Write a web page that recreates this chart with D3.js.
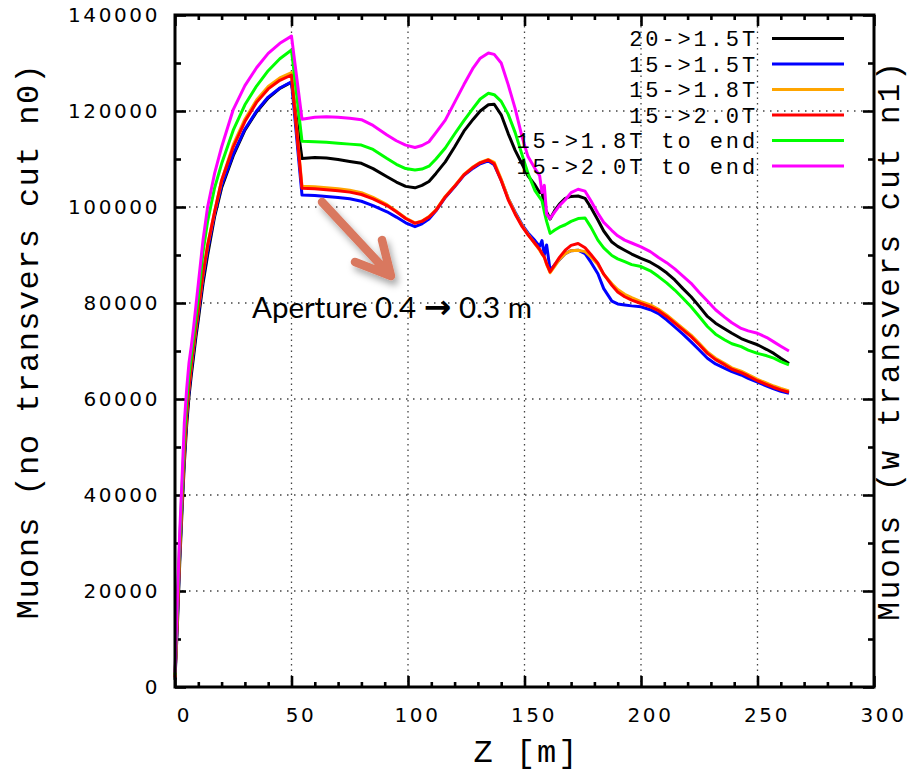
<!DOCTYPE html>
<html>
<head>
<meta charset="utf-8">
<script src="https://cdn.jsdelivr.net/npm/d3@7"></script>
<style>
  body { margin: 0; background: #fff; }
  svg { display: block; }
</style>
</head>
<body>
<svg id="chart" width="912" height="772"></svg>
<script>
// Position along the beam line, Z [m]
const zPos = [
  0, 1, 2, 3, 4, 5, 6, 7, 8, 9, 10, 12, 14, 17, 20, 25, 30, 35, 40, 45, 50,
  54.5, 60, 65, 70, 75, 80, 85, 91, 95, 99, 103, 106, 109, 112, 116, 120, 124, 128, 131, 134.5,
  137, 140, 143, 146, 149, 151.5, 154.5, 156.5, 157.5, 158.5, 159.5, 161, 163, 165, 167.5, 170,
  173, 176, 178.5, 181.5, 184, 187.5, 190, 193, 196, 200, 204, 207.5, 211, 214.5, 218, 221.5,
  225, 228.5, 232, 236, 239, 243, 246, 250, 254, 257, 260, 263.5
];

// Muon counts for each solenoid field configuration
const muons20to15 = [
  1500, 12500, 25500, 36500, 46500, 54500, 60500, 65000, 69000, 73000, 76500, 84000, 90000, 98000, 104000, 110700, 116000, 119800, 122700, 124700, 126000,
  110100, 110300, 110200, 109900, 109500, 109100, 108000, 106300, 105200, 104300,
  104000, 104500, 105300, 107000, 109400, 112500, 115800, 118300, 120000, 121300,
  121400, 119200, 115300, 111800, 108900, 106500, 104600, 103000, 103300, 100000,
  99000, 97500, 99300, 100600, 101800, 102200, 102300, 101800, 99900, 97300,
  95000, 92700, 91800, 91000, 90200, 89300, 88500, 87500, 86300, 84800,
  83000, 81300, 79300, 77200, 75800, 74600, 73700, 72600, 72000, 71300,
  70300, 69500, 68500, 67400
];
const muons15to15 = [
  2000, 14000, 27000, 38000, 48000, 56000, 61500, 66000, 70000, 74000, 77500, 85000, 91000, 98500, 104500, 111000, 116200, 120000, 122900, 124800, 126100,
  102500, 102400, 102200, 102000, 101700, 101200, 100300, 99000, 97900, 96700,
  95900, 96500, 97500, 99200, 102000, 104200, 106600, 108100, 109000, 109600,
  108800, 105600, 101800, 98900, 96300, 94600, 93000, 91800, 93000, 90000,
  92100, 86800, 88000, 89000, 90300, 90900, 91000, 90300, 88500, 86100,
  83000, 80400, 79800, 79600, 79400, 79200, 78600, 77800, 76500, 75000,
  73500, 71900, 70200, 68500, 67300, 66400, 65700, 65000, 64300, 63500,
  62700, 62100, 61600, 61200
];
const muons15to18 = [
  2000, 15000, 28000, 39000, 49000, 57000, 62500, 67000, 71000, 75000, 78500, 86000, 92000, 99000, 105500, 113000, 118300, 122300, 125100, 126900, 128000,
  104300, 104200, 104000, 103800, 103500, 103000, 102000, 100500, 99100, 97700,
  96700, 97100, 98000, 99400, 102200, 104400, 106800, 108400, 109300, 109900,
  109300, 105800, 101800, 98700, 96100, 94300, 92300, 91000, 90200, 89500,
  88000, 86300, 87700, 89100, 90300, 90900, 91000, 90700, 89600, 88000,
  86000, 84000, 82800, 81800, 81100, 80300, 79600, 78700, 77500, 76100,
  74700, 73300, 71600, 69800, 68500, 67400, 66500, 65800, 65100, 64100,
  63300, 62700, 62200, 61700
];
const muons15to20 = [
  2000, 15000, 28000, 39000, 49000, 57000, 62500, 67000, 71000, 75000, 78500, 86000, 92000, 99000, 105500, 112500, 117800, 121800, 124600, 126400, 127500,
  103900, 103800, 103600, 103400, 103100, 102600, 101700, 100300, 99000, 97600,
  96600, 97000, 97900, 99300, 102100, 104300, 106700, 108300, 109200, 109800,
  109000, 105500, 101500, 98500, 95900, 94200, 92400, 91200, 90300, 89600,
  88200, 86500, 88000, 89500, 91000, 92000, 92400, 91500, 90100, 88300,
  86000, 83700, 82300, 81300, 80600, 79900, 79200, 78400, 77200, 75800,
  74400, 73000, 71300, 69500, 68200, 67100, 66200, 65500, 64800, 63800,
  63000, 62400, 61900, 61400
];
const muons15to18End = [
  2500, 17000, 30000, 41000, 52000, 59500, 65000, 69000, 73000, 77000, 81000, 90500, 97000, 104000, 109000, 116000, 121300, 125200, 128400, 130900, 132700,
  113700, 113600, 113500, 113300, 113100, 112900, 112000, 110100, 108900, 108000,
  107700, 107900, 108500, 110000, 112300, 115200, 118000, 120600, 122500, 123700,
  123400, 122000, 119300, 115500, 110800, 107000, 103400, 102000, 101300, 99000,
  97000, 94500, 95200, 95800, 96300, 97000, 97600, 97700, 95800, 93100,
  91500, 89900, 89200, 88600, 88000, 87600, 86700, 85500, 84200, 82700,
  81000, 79200, 77200, 75100, 73500, 72300, 71500, 70900, 70200, 69500,
  69000, 68500, 67800, 67100
];
const muons15to20End = [
  3000, 18000, 32000, 43000, 55000, 62000, 67500, 71000, 75000, 79500, 84000, 93000, 100000, 107000, 112500, 120300, 125300, 129000, 132000, 134100, 135600,
  118300, 118700, 118800, 118700, 118500, 118200, 117000, 115000, 113800, 112900,
  112400, 112800, 113600, 115500, 118100, 121800, 125500, 129000, 131000, 132100,
  131800, 130000, 125500, 120500, 114500, 110500, 108000, 106500, 103000, 104500,
  98500, 97600, 99000, 100300, 101500, 103000, 103700, 103300, 101300, 98700,
  96800, 95100, 94000, 93100, 92500, 91700, 90700, 89500, 88400, 87100,
  85600, 84100, 82200, 80400, 78600, 77000, 75900, 74700, 74200, 73700,
  72800, 71900, 71000, 70000
];

const seriesLabels = ["20->1.5T", "15->1.5T", "15->1.8T", "15->2.0T", "15->1.8T to end", "15->2.0T to end"];
const seriesValues = [muons20to15, muons15to15, muons15to18, muons15to20, muons15to18End, muons15to20End];
const seriesColors = ["#000000", "#0000ff", "#ffa500", "#ff0000", "#00ff00", "#ff00ff"];

const xMajorTicks = [0, 50, 100, 150, 200, 250, 300];
const yMajorTicks = [0, 20000, 40000, 60000, 80000, 100000, 120000, 140000];
const xGridTicks = [50, 100, 150, 200, 250];
const yGridTicks = [20000, 40000, 60000, 80000, 100000, 120000];

const xTitle = "Z [m]";
const yTitle = "Muons (no transvers cut n0)";
const y2Title = "Muons (w transvers cut n1)";
const noteParts = ["Aperture 0.4 ", "\u2192", " 0.3 m"];

// ---- layout ----
const plotL = 175, plotR = 874, plotT = 15, plotB = 687;
const svg = d3.select("#chart");

const x = d3.scaleLinear().domain([0, 300]).range([plotL, plotR]);
const y = d3.scaleLinear().domain([0, 140000]).range([plotB, plotT]);

const tickFont = "'DejaVu Sans', sans-serif";
const monoFont = "'Liberation Mono', 'DejaVu Sans Mono', monospace";

// dotted grid
const grid = svg.append("g");
grid.selectAll("line.gx").data(xGridTicks).join("line")
  .attr("class", "gx")
  .attr("x1", d => x(d)).attr("x2", d => x(d))
  .attr("y1", plotT).attr("y2", plotB)
  .attr("stroke", "#444").attr("stroke-width", 1.3)
  .attr("stroke-dasharray", "1.5,4");
grid.selectAll("line.gy").data(yGridTicks).join("line")
  .attr("class", "gy")
  .attr("x1", plotL).attr("x2", plotR)
  .attr("y1", d => y(d)).attr("y2", d => y(d))
  .attr("stroke", "#444").attr("stroke-width", 1.3)
  .attr("stroke-dasharray", "1.5,5.5");

// axes: inward ticks on all four sides
function styleAxis(g) {
  g.select(".domain").remove();
  g.selectAll(".tick line").attr("stroke", "#000").attr("stroke-width", 2.6);
}
const xMinor = d3.range(0, 301, 10).filter(d => d % 50 !== 0);
const yMinor = d3.range(10000, 140000, 20000);

svg.append("g").attr("transform", `translate(0,${plotB})`)
  .call(d3.axisBottom(x).tickValues(xMinor).tickSize(-5).tickFormat(""))
  .call(styleAxis);
svg.append("g").attr("transform", `translate(0,${plotT})`)
  .call(d3.axisTop(x).tickValues(xMinor).tickSize(-5).tickFormat(""))
  .call(styleAxis);
svg.append("g").attr("transform", `translate(${plotL},0)`)
  .call(d3.axisLeft(y).tickValues(yMinor).tickSize(-6).tickFormat(""))
  .call(styleAxis);
svg.append("g").attr("transform", `translate(${plotR},0)`)
  .call(d3.axisRight(y).tickValues(yMinor).tickSize(-6).tickFormat(""))
  .call(styleAxis);

const xAxis = svg.append("g").attr("transform", `translate(0,${plotB})`)
  .call(d3.axisBottom(x).tickValues(xMajorTicks).tickSize(-11).tickPadding(21).tickFormat(d3.format("d")))
  .call(styleAxis);
xAxis.selectAll(".tick text")
  .attr("font-family", tickFont).attr("font-size", 20)
  .attr("letter-spacing", 2.6).attr("fill", "#000")
  .attr("dx", 9);

svg.append("g").attr("transform", `translate(0,${plotT})`)
  .call(d3.axisTop(x).tickValues(xMajorTicks).tickSize(-11).tickFormat(""))
  .call(styleAxis);

const yAxis = svg.append("g").attr("transform", `translate(${plotL},0)`)
  .call(d3.axisLeft(y).tickValues(yMajorTicks).tickSize(-11).tickPadding(15).tickFormat(d3.format("d")))
  .call(styleAxis);
yAxis.selectAll(".tick text")
  .attr("font-family", tickFont).attr("font-size", 20)
  .attr("letter-spacing", 2.6).attr("fill", "#000");

svg.append("g").attr("transform", `translate(${plotR},0)`)
  .call(d3.axisRight(y).tickValues(yMajorTicks).tickSize(-11).tickFormat(""))
  .call(styleAxis);

// curves
const line = d3.line()
  .x((d, i) => x(zPos[i]))
  .y(d => y(d));
svg.append("g").selectAll("path").data(seriesValues).join("path")
  .attr("d", d => line(d))
  .attr("fill", "none")
  .attr("stroke", (d, i) => seriesColors[i])
  .attr("stroke-width", 3)
  .attr("stroke-linejoin", "round");

// frame
svg.append("rect")
  .attr("x", plotL).attr("y", plotT)
  .attr("width", plotR - plotL).attr("height", plotB - plotT)
  .attr("fill", "none").attr("stroke", "#000").attr("stroke-width", 3);

// legend
const legend = svg.append("g");
const legendRowY = i => 38.5 + i * 25.5;
seriesLabels.forEach((lab, i) => {
  legend.append("text")
    .attr("x", 758).attr("y", legendRowY(i) + 7.5)
    .attr("text-anchor", "end")
    .attr("font-family", monoFont).attr("font-size", 22)
    .attr("letter-spacing", 2.9)
    .attr("fill", "#000")
    .text(lab);
  legend.append("line")
    .attr("x1", 772).attr("x2", 844)
    .attr("y1", legendRowY(i)).attr("y2", legendRowY(i))
    .attr("stroke", seriesColors[i]).attr("stroke-width", 3);
});

// axis titles
svg.append("text")
  .attr("x", (plotL + plotR) / 2 + 2).attr("y", 762)
  .attr("text-anchor", "middle")
  .attr("font-family", monoFont).attr("font-size", 32)
  .attr("letter-spacing", 2)
  .text(xTitle);
svg.append("text")
  .attr("transform", "translate(38,341) rotate(-90)")
  .attr("text-anchor", "middle")
  .attr("font-family", monoFont).attr("font-size", 32)
  .attr("letter-spacing", 1.4)
  .text(yTitle);
svg.append("text")
  .attr("transform", "translate(899,340) rotate(-90)")
  .attr("text-anchor", "middle")
  .attr("font-family", monoFont).attr("font-size", 31)
  .attr("letter-spacing", 3)
  .text(y2Title);

// annotation arrow with soft shadow
const defs = svg.append("defs");
const f = defs.append("filter").attr("id", "shadow")
  .attr("x", "-30%").attr("y", "-30%").attr("width", "160%").attr("height", "160%");
f.append("feDropShadow")
  .attr("dx", 3).attr("dy", 5).attr("stdDeviation", 3.5)
  .attr("flood-color", "#000").attr("flood-opacity", 0.35);

const arrow = svg.append("g").attr("filter", "url(#shadow)");
arrow.append("path")
  .attr("d", "M322,202 L390,275 M355,262 L391,276 L382,240")
  .attr("fill", "none")
  .attr("stroke", "#d9785f")
  .attr("stroke-width", 8.5)
  .attr("stroke-linecap", "round")
  .attr("stroke-linejoin", "round");

const note = svg.append("text")
  .attr("x", 252).attr("y", 318)
  .attr("font-family", "Lato, 'Open Sans', sans-serif")
  .attr("font-size", 29.5)
  .attr("fill", "#000");
note.append("tspan").text(noteParts[0]);
note.append("tspan").attr("font-family", "'DejaVu Sans', sans-serif")
  .attr("font-weight", "bold").attr("font-size", 33).text(noteParts[1]);
note.append("tspan").text(noteParts[2]);
</script>
</body>
</html>
